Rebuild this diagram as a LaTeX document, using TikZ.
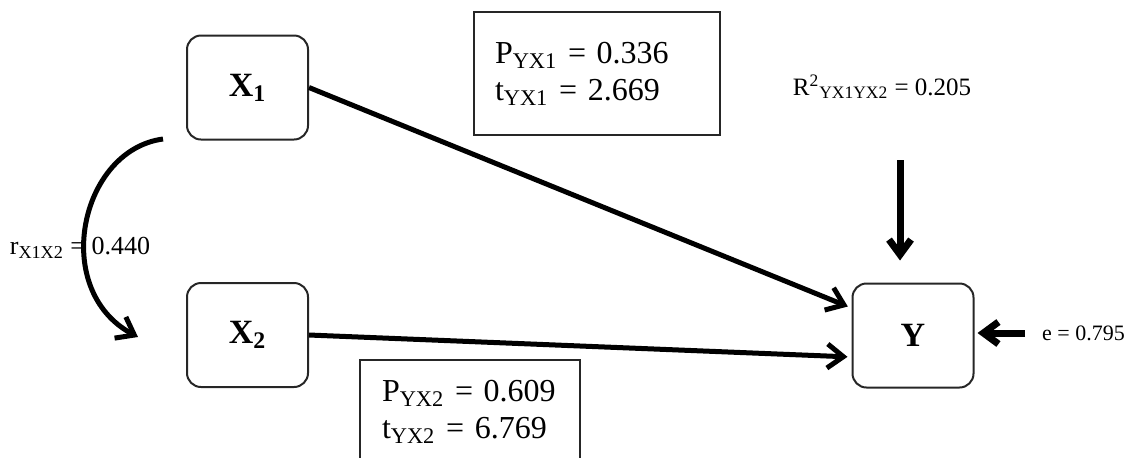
\documentclass[tikz,border=0pt]{standalone}
\usepackage{fontspec}
\setmainfont{Liberation Serif}
\usetikzlibrary{arrows.meta, positioning, calc}

\begin{document}
\begin{tikzpicture}[x=0.5pt, y=-0.5pt,
    varbox/.style={draw=black!85, line width=1pt, rounded corners=7pt,
      minimum width=60.5pt, minimum height=52pt,
      font=\fontsize{17}{20}\selectfont\bfseries},
    coef/.style={draw=black!85, line width=0.8pt, align=left,
      inner xsep=10.5pt, font=\fontsize{16}{18.5}\selectfont},
    effect/.style={line width=2.5pt, shorten >=2pt,
      -{Straight Barb[length=8pt,width=12pt]}},
    inarr/.style={line width=3.5pt, -{Straight Barb[length=7.5pt,width=11pt]}}]
  \useasboundingbox (0,0) rectangle (1127,457);
  \clip (0,0) rectangle (1127,457);

  % variables
  \node[varbox] (X1) at (247.5,87.5) {X\textsubscript{1}};
  \node[varbox] (X2) at (247.5,335) {X\textsubscript{2}};
  \node[varbox] (Y) at (913,335.5) {Y};

  % path coefficients
  \node[coef, minimum height=61.5pt, text width=102pt] (p1) at (597,73.5)
    {P\textsubscript{YX1} = 0.336\\ t\textsubscript{YX1} = 2.669};
  \node[coef, minimum height=52pt, text width=88pt, inner xsep=11pt] (p2) at (470,412)
    {P\textsubscript{YX2} = 0.609\\ t\textsubscript{YX2} = 6.769};

  \node[font=\fontsize{12.5}{15}\selectfont] (r2) at (882,87)
    {R\textsuperscript{2}\textsubscript{YX1YX2} = 0.205};
  \node[font=\fontsize{13}{15}\selectfont] (r12) at (80,248)
    {r\textsubscript{X1X2} = 0.440};
  \node[font=\fontsize{11}{13}\selectfont, anchor=west] (e) at (1035,333)
    {e = 0.795};

  \coordinate (rtop) at (163,139);
  \coordinate (rbot) at (138,337);
  \coordinate (r2arr) at (900,160);

  \draw[effect] (X1.east) -- ([yshift=13.75pt]Y.west);
  \draw[effect] (X2.east) -- ([yshift=-10.75pt]Y.west);
  \draw[effect, shorten >=0pt] (rtop) .. controls (80,150) and (50,290) .. (rbot);
  \draw[inarr, shorten >=11pt] (r2arr) -- (r2arr |- Y.north);
  \draw[inarr, shorten <=5pt, shorten >=1.5pt] (e.west) -- (e.west -| Y.east);
\end{tikzpicture}
\end{document}
